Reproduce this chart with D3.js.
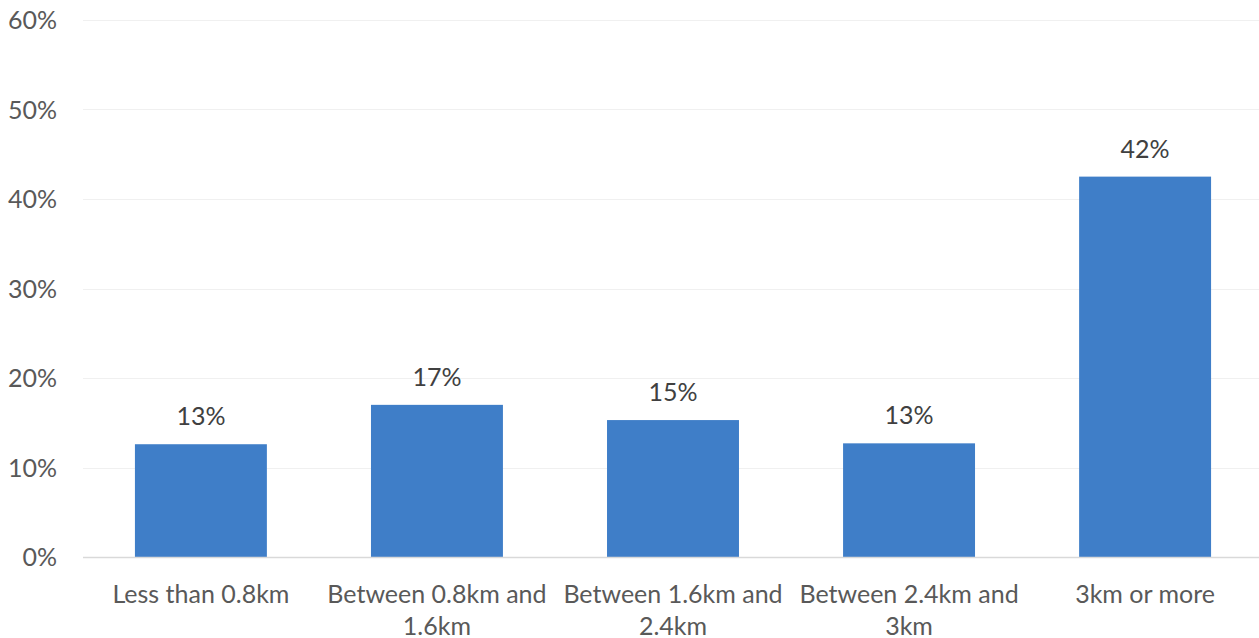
<!DOCTYPE html>
<html><head><meta charset="utf-8">
<script src="https://cdn.jsdelivr.net/npm/d3@7"></script>
<style>body{margin:0;background:#fff}svg{display:block}text{font-family:Lato,"Open Sans",sans-serif}</style>
</head><body>
<svg id="c" width="1259" height="638"></svg>
<script>
const categories = ["Less than 0.8km","Between 0.8km and 1.6km","Between 1.6km and 2.4km","Between 2.4km and 3km","3km or more"];
const values = [12.6, 17.0, 15.3, 12.7, 42.5];
const valueLabels = ["13%","17%","15%","13%","42%"];
const yTicks = [0,10,20,30,40,50,60];

(function(){
const svg = d3.select("#c");
const FS = 25;
const mLeft = 83, mRight = 1263, mTop = 20, mBottom = 557;
const x = d3.scaleBand().domain(categories).range([mLeft,mRight]).paddingInner(0.441).paddingOuter(0.22);
const y = d3.scaleLinear().domain([0,60]).range([mBottom,mTop]);

svg.append("g").selectAll("line").data(yTicks.filter(d=>d>0)).join("line")
  .attr("x1",mLeft).attr("x2",1259).attr("y1",d=>Math.round(y(d))+0.5).attr("y2",d=>Math.round(y(d))+0.5)
  .attr("stroke","#f0f0f0").attr("stroke-width",1);

svg.append("g").selectAll("text").data(yTicks).join("text")
  .attr("x",57).attr("y",d=>y(d)+9).attr("text-anchor","end")
  .attr("font-size",FS).attr("fill","#595959").text(d=>d+"%");

svg.append("g").selectAll("rect").data(values).join("rect")
  .attr("x",(d,i)=>x(categories[i])).attr("width",x.bandwidth())
  .attr("y",d=>y(d)).attr("height",d=>mBottom-y(d)).attr("fill","#3f7ec8");

svg.append("line").attr("x1",mLeft).attr("x2",1259).attr("y1",mBottom+0.5).attr("y2",mBottom+0.5)
  .attr("stroke","#d9d9d9").attr("stroke-width",1.5);

svg.append("g").selectAll("text").data(values).join("text")
  .attr("x",(d,i)=>x(categories[i])+x.bandwidth()/2).attr("y",d=>y(d)-19)
  .attr("text-anchor","middle").attr("font-size",FS).attr("fill","#404040")
  .text((d,i)=>valueLabels[i]);

const step = x.step();
const xl = svg.append("g");
categories.forEach((c,i)=>{
  const cx = x(c)+x.bandwidth()/2;
  const t = xl.append("text").attr("x",cx).attr("y",603).attr("text-anchor","middle")
    .attr("font-size",FS).attr("fill","#595959");
  const words = c.split(" ");
  let lines=[], cur=[];
  const tmp = svg.append("text").attr("font-size",FS);
  words.forEach(w=>{
    const trial = cur.concat([w]).join(" ");
    tmp.text(trial);
    if (tmp.node().getComputedTextLength() > step-4 && cur.length){ lines.push(cur.join(" ")); cur=[w]; }
    else cur.push(w);
  });
  lines.push(cur.join(" "));
  tmp.remove();
  lines.forEach((l,j)=>t.append("tspan").attr("x",cx).attr("dy",j?32:0).text(l));
});
})();
</script>
</body></html>
